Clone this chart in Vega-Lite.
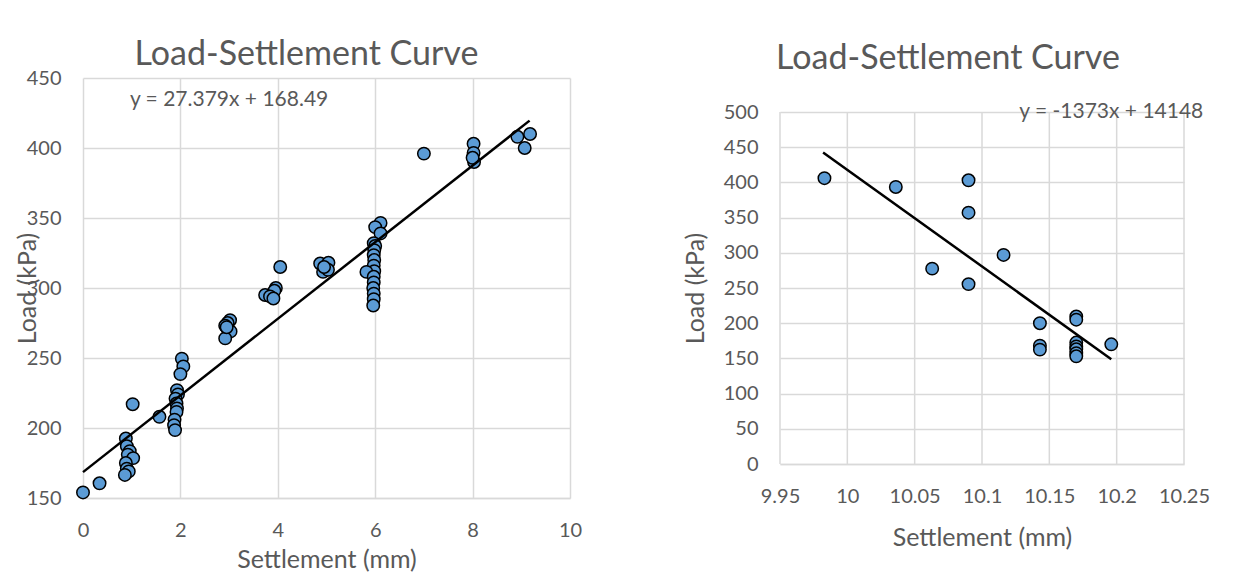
{
  "$schema": "https://vega.github.io/schema/vega-lite/v6.json",
  "background": "white",
  "padding": {"left": 15, "top": 38, "right": 0, "bottom": 0},
  "config": {
    "font": "Lato",
    "view": {"stroke": null},
    "axis": {
      "grid": true, "gridColor": "#d9d9d9", "gridWidth": 1.5,
      "domainColor": "#d9d9d9", "domainWidth": 1.5, "ticks": false, "labelOverlap": false, "labelFlush": false,
      "labelFont": "Lato", "labelFontSize": 20, "labelColor": "#595959", "labelPadding": 22,
      "titleFont": "Lato", "titleFontSize": 25, "titleColor": "#595959", "titleFontWeight": "normal"
    },
    "axisY": {"domain": false},
    "title": {"font": "Lato", "fontSize": 34, "color": "#595959", "fontWeight": "normal"},
    "concat": {"spacing": 101}
  },
  "hconcat": [
    {
      "width": 487, "height": 420,
      "title": {"text": "Load-Settlement Curve", "frame": "group", "anchor": "middle", "baseline": "alphabetic", "offset": -31, "dx": -20},
      "layer": [
        {
          "data": {"values": [
            {"settlement": 0, "load": 154}, {"settlement": 0.34, "load": 160.5},
            {"settlement": 0.88, "load": 192.5}, {"settlement": 0.9, "load": 187}, {"settlement": 0.96, "load": 183.5},
            {"settlement": 0.92, "load": 181}, {"settlement": 1.03, "load": 178.5}, {"settlement": 0.88, "load": 175},
            {"settlement": 0.9, "load": 171}, {"settlement": 0.94, "load": 169}, {"settlement": 0.86, "load": 166.5},
            {"settlement": 1.02, "load": 217}, {"settlement": 1.57, "load": 208},
            {"settlement": 2.03, "load": 249.5}, {"settlement": 2.06, "load": 244}, {"settlement": 2.0, "load": 238.5},
            {"settlement": 1.93, "load": 227}, {"settlement": 1.95, "load": 224}, {"settlement": 1.9, "load": 221},
            {"settlement": 1.92, "load": 217.5}, {"settlement": 1.93, "load": 214}, {"settlement": 1.92, "load": 211.5},
            {"settlement": 1.88, "load": 206}, {"settlement": 1.87, "load": 202}, {"settlement": 1.89, "load": 198.5},
            {"settlement": 3.02, "load": 277}, {"settlement": 2.97, "load": 275}, {"settlement": 2.92, "load": 273},
            {"settlement": 2.98, "load": 270}, {"settlement": 3.03, "load": 269}, {"settlement": 2.92, "load": 264},
            {"settlement": 2.95, "load": 272},
            {"settlement": 4.05, "load": 315}, {"settlement": 3.96, "load": 300}, {"settlement": 3.93, "load": 298},
            {"settlement": 3.74, "load": 295}, {"settlement": 3.84, "load": 294}, {"settlement": 3.91, "load": 292.5},
            {"settlement": 4.87, "load": 317.5}, {"settlement": 5.04, "load": 318}, {"settlement": 4.93, "load": 311.5},
            {"settlement": 5.03, "load": 313}, {"settlement": 4.95, "load": 315},
            {"settlement": 6.11, "load": 346.5}, {"settlement": 6.0, "load": 343.5}, {"settlement": 6.11, "load": 339},
            {"settlement": 5.97, "load": 332}, {"settlement": 6.0, "load": 330}, {"settlement": 5.98, "load": 327},
            {"settlement": 5.97, "load": 323.5}, {"settlement": 5.98, "load": 320}, {"settlement": 5.97, "load": 316},
            {"settlement": 5.98, "load": 312}, {"settlement": 5.82, "load": 311.5}, {"settlement": 5.97, "load": 308},
            {"settlement": 5.97, "load": 304}, {"settlement": 5.96, "load": 300}, {"settlement": 5.97, "load": 296},
            {"settlement": 5.97, "load": 292}, {"settlement": 5.96, "load": 287.5},
            {"settlement": 7.0, "load": 396},
            {"settlement": 8.02, "load": 403}, {"settlement": 8.02, "load": 396.5}, {"settlement": 8.03, "load": 390},
            {"settlement": 8.0, "load": 393},
            {"settlement": 8.92, "load": 408}, {"settlement": 9.07, "load": 400}, {"settlement": 9.18, "load": 410}
          ]},
          "mark": {"type": "circle", "size": 155, "fill": "#5B9BD5", "stroke": "black", "strokeWidth": 1.5, "opacity": 1},
          "encoding": {
            "x": {"field": "settlement", "type": "quantitative", "scale": {"domain": [0, 10], "nice": false},
                  "axis": {"title": "Settlement (mm)", "values": [0, 2, 4, 6, 8, 10], "tickCount": 12, "titleY": 61, "titleBaseline": "middle"}},
            "y": {"field": "load", "type": "quantitative", "scale": {"domain": [150, 450], "nice": false, "zero": false},
                  "axis": {"title": "Load (kPa)", "values": [150, 200, 250, 300, 350, 400, 450], "tickCount": 12, "titleX": -43, "titleY": 210}}
          }
        },
        {
          "data": {"values": [{"settlement": 0, "load": 168.49}, {"settlement": 9.17, "load": 419.55}]},
          "mark": {"type": "line", "color": "black", "strokeWidth": 2.5},
          "encoding": {
            "x": {"field": "settlement", "type": "quantitative"},
            "y": {"field": "load", "type": "quantitative"}
          }
        },
        {
          "data": {"values": [{"label": "y = 27.379x + 168.49"}]},
          "mark": {"type": "text", "fontSize": 21, "color": "#595959", "align": "center", "baseline": "middle"},
          "encoding": {
            "x": {"datum": 3.0, "type": "quantitative"},
            "y": {"datum": 434, "type": "quantitative"},
            "text": {"field": "label"}
          }
        }
      ]
    },
    {
      "width": 404, "height": 386,
      "title": {"text": "Load-Settlement Curve", "frame": "group", "anchor": "middle", "baseline": "alphabetic", "offset": -25, "dx": -34},
      "layer": [
        {
          "data": {"values": [
            {"grid": 9.95}, {"grid": 10}, {"grid": 10.05}, {"grid": 10.1}, {"grid": 10.15}, {"grid": 10.2}, {"grid": 10.25}
          ]},
          "mark": {"type": "rule", "color": "#d9d9d9", "strokeWidth": 1.5},
          "encoding": {
            "x": {"field": "grid", "type": "quantitative"},
            "y": {"datum": 0, "type": "quantitative"},
            "y2": {"datum": 500}
          }
        },
        {
          "data": {"values": [
            {"settlement": 9.983, "load": 406}, {"settlement": 10.036, "load": 393.5},
            {"settlement": 10.09, "load": 403}, {"settlement": 10.09, "load": 357},
            {"settlement": 10.063, "load": 277.5}, {"settlement": 10.09, "load": 255.5},
            {"settlement": 10.116, "load": 297}, {"settlement": 10.143, "load": 200},
            {"settlement": 10.143, "load": 168}, {"settlement": 10.143, "load": 162.5},
            {"settlement": 10.17, "load": 209.5}, {"settlement": 10.17, "load": 205},
            {"settlement": 10.17, "load": 172.5}, {"settlement": 10.17, "load": 167},
            {"settlement": 10.17, "load": 163}, {"settlement": 10.17, "load": 157.5},
            {"settlement": 10.17, "load": 153}, {"settlement": 10.196, "load": 170}
          ]},
          "mark": {"type": "circle", "size": 155, "fill": "#5B9BD5", "stroke": "black", "strokeWidth": 1.5, "opacity": 1},
          "encoding": {
            "x": {"field": "settlement", "type": "quantitative", "scale": {"domain": [9.95, 10.25], "nice": false, "zero": false},
                  "axis": {"title": "Settlement (mm)", "grid": false, "values": [9.95, 10, 10.05, 10.1, 10.15, 10.2, 10.25], "tickCount": 12, "format": "~g", "titleY": 73, "titleBaseline": "middle"}},
            "y": {"field": "load", "type": "quantitative", "scale": {"domain": [0, 548.3], "nice": false},
                  "axis": {"title": "Load (kPa)", "values": [0, 50, 100, 150, 200, 250, 300, 350, 400, 450, 500], "tickCount": 20, "titleX": -72, "titleY": 210}}
          }
        },
        {
          "data": {"values": [{"settlement": 9.982, "load": 442.5}, {"settlement": 10.196, "load": 148.9}]},
          "mark": {"type": "line", "color": "black", "strokeWidth": 2.5},
          "encoding": {
            "x": {"field": "settlement", "type": "quantitative"},
            "y": {"field": "load", "type": "quantitative"}
          }
        },
        {
          "data": {"values": [{"label": "y = -1373x + 14148"}]},
          "mark": {"type": "text", "fontSize": 21, "color": "#595959", "align": "center", "baseline": "middle"},
          "encoding": {
            "x": {"datum": 10.196, "type": "quantitative"},
            "y": {"datum": 500, "type": "quantitative"},
            "text": {"field": "label"}
          }
        }
      ]
    }
  ]
}
